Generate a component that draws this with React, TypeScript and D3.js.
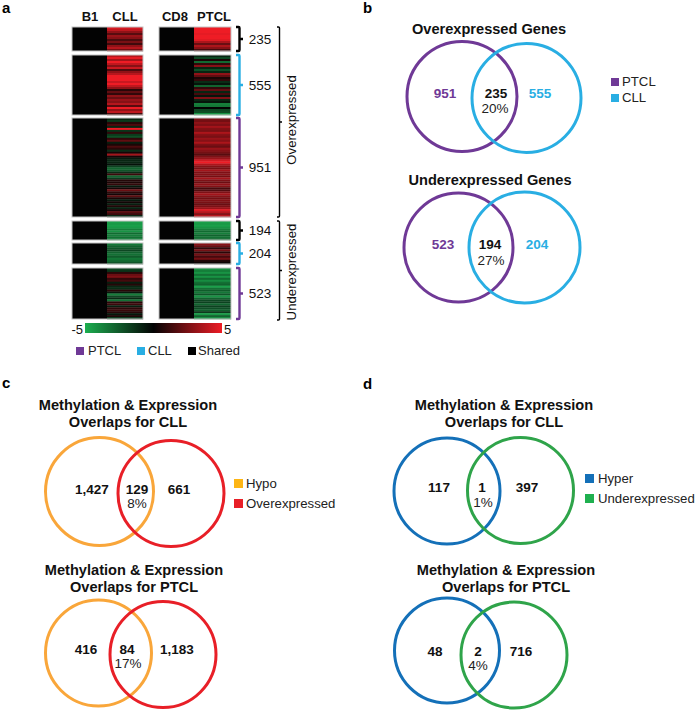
import * as d3 from "d3";

const columnLabels = ["B1", "CLL", "CD8", "PTCL"];
const groupCounts = ["235", "555", "951", "194", "204", "523"];

// expression per row (log2 scale, -5 to 5)
const cll235 = [4.5, 4, 3, 1.8, 3.2, 2.8, 1.5, 2.5, 1.3, 3, 3.8, 2.4];
const ptcl235 = [5, 5, 5, 4.8, 5, 5, 4.7, 3.6, 2.2, 3.6, 2.8, 1.4];
const cll555 = [3.8, 4.8, 3.4, 5, 4, 2.8, 4.2, 1.6, 3, 3.8, 5, 5, 5, 4.2, 5, 4, 3, 0.8, 2, 1, 3, 2.2, 3.2, 2.8, 3.8, 1.8, 5, 3, 4, 1.5];
const ptcl555 = [-1, -2, 0.5, -3, 1, 2.8, -1, -2.2, -1, 3, 2, 0.5, 1, -1.2, -0.5, -2.8, 1, 2, -1, 1.4, -0.5, 2.6, -1, -0.5, -3.6, -3.4, 0, -2, -2.2, -4.2];
const cll951 = [-1, -1.6, 0.8, 1.6, -1, 5, -1.4, 1, -1.6, -2.2, 0.9, 2, -0.8, 0.5, 1.5, 0.8, -1.2, 0.4, 3.4, 0.4, -0.7, -1, -1, -0.4, -1.8, -2.8, -2.4, -1.2, 1.2, -2.8, -1.6, 0.7, 0.5, 1, -0.6, 0.4, 2.2, 0.9, 0.4, 1.8, 0.5, -0.6, 0.3, -0.8, 0.6, -0.9, 0.4, 1.8, 1.2, -1];
const ptcl951 = [2.6, 2.4, 3, 2.6, 3.4, 2.7, 2.5, 3.6, 2.8, 2.5, 3.2, 2.8, 3.6, 2.6, 2.2, 3.2, 2.8, 2.4, 1.8, 2.6, 3.2, 4.4, 5, 3.6, 2.8, 2.5, 3.4, 2.6, 2.8, 2.4, 3.4, 2.6, 2.2, 3, 2.7, 1.5, 1.7, 2.6, 3.4, 2.8, 2.4, 2.7, 2.5, 2.2, 2.6, 3.2, 4.6, 3.8, 2.8, 3.8];
const cll194 = [-4.6, -4.4, -4.6, -4.4, -3.6, -4.2, -3, -3.6, -3.2, -3.6];
const ptcl194 = [-4.6, -4.4, -4.6, -4.2, -3.6, -3, -3.6, -2.8, -3.2, -3];
const cll204 = [-3.4, -2.8, -2.4, -2, -2.8, -3.2, -2.6, -3.4, -3, -2.4];
const ptcl204 = [2.8, 2.2, 1, 2.4, 0.8, 2.4, 1.4, 2.4, 0.6, 0.2];
const cll523 = [-1.8, -1.4, 0.8, 2.2, 2.6, 1, 1.4, -0.8, 0.7, -1, -1.2, 0.8, -0.6, -3.6, -2, -1.2, -3.2, 0.8, 1.2, -0.8, 0.9, 1.1, 0.7, -0.6, 0.5, -1.6];
const ptcl523 = [-4.2, -3.6, -4.2, -3.2, -4.2, -3, -4, -3.2, -2.8, -4.6, -3.2, -2.6, -3.4, -2.4, -4.2, -2.8, -2, -1.8, -2.8, -1.8, -2.2, -2.6, -1.6, -4.4, -2.8, -4];

const cllRows = [cll235, cll555, cll951, cll194, cll204, cll523];
const ptclRows = [ptcl235, ptcl555, ptcl951, ptcl194, ptcl204, ptcl523];
const colorStops = [-5, -2.5, 0, 2.5, 5];

const overGroupLabel = "Overexpressed";
const underGroupLabel = "Underexpressed";

const vennTitles = [
  ["Overexpressed Genes"],
  ["Underexpressed Genes"],
  ["Methylation & Expression", "Overlaps for CLL"],
  ["Methylation & Expression", "Overlaps for PTCL"],
  ["Methylation & Expression", "Overlaps for CLL"],
  ["Methylation & Expression", "Overlaps for PTCL"],
];
const vennLeft = ["951", "523", "1,427", "416", "117", "48"];
const vennShared = ["235", "194", "129", "84", "1", "2"];
const vennPercent = ["20%", "27%", "8%", "17%", "1%", "4%"];
const vennRight = ["555", "204", "661", "1,183", "397", "716"];

const purple = "#6f3996";
const sky = "#29aee3";
const orange = "#f9a63a";
const red = "#e81f27";
const blue = "#1470b8";
const green = "#2fa44a";
const font = "'Liberation Sans', Arial, sans-serif";

const color = d3.scaleLinear<string>().domain([-5, 0, 5]).range(["#1cae50", "#030303", "#ee1c25"]);

// layout only
const stripBounds = [
  [27, 51],
  [55, 115],
  [118, 217],
  [221, 240],
  [243, 264],
  [268, 319],
];
const bracketColors = ["#000", sky, purple, "#000", sky, purple];

interface VennLayout {
  a: [number, number, number];
  b: [number, number, number];
  colors: [string, string];
  titleX: number;
  titleY: number;
  numberY: number;
  percentY: number;
  leftX: number;
  sharedX: number;
  percentX: number;
  rightX: number;
  tintNumbers: boolean;
}

const vennLayouts: VennLayout[] = [
  { a: [462, 96.5, 55], b: [526.5, 98, 54.5], colors: [purple, sky], titleX: 489, titleY: 34, numberY: 98, percentY: 113, leftX: 445, sharedX: 496, percentX: 495, rightX: 540, tintNumbers: true },
  { a: [458.5, 247.5, 54.5], b: [524.5, 247.5, 55.5], colors: [purple, sky], titleX: 490, titleY: 185, numberY: 249, percentY: 265, leftX: 443, sharedX: 490, percentX: 491, rightX: 537, tintNumbers: true },
  { a: [99.5, 491.5, 54], b: [171, 493.5, 53], colors: [orange, red], titleX: 128, titleY: 410, numberY: 494, percentY: 508, leftX: 92, sharedX: 137, percentX: 137, rightX: 179, tintNumbers: false },
  { a: [98.5, 653, 53], b: [163, 654.5, 53], colors: [orange, red], titleX: 134, titleY: 575, numberY: 654, percentY: 668, leftX: 86, sharedX: 127, percentX: 128, rightX: 177, tintNumbers: false },
  { a: [447, 491, 53], b: [520.5, 490.5, 53], colors: [blue, green], titleX: 504, titleY: 410, numberY: 492, percentY: 507, leftX: 439, sharedX: 482, percentX: 483, rightX: 527, tintNumbers: false },
  { a: [447, 650.5, 52.5], b: [514, 655, 53], colors: [blue, green], titleX: 506, titleY: 575, numberY: 656, percentY: 670, leftX: 435, sharedX: 478, percentX: 478, rightX: 521, tintNumbers: false },
];

const legends = [
  { items: [["PTCL", purple], ["CLL", sky]], x: 611, ys: [78, 94], size: 8, textX: 622 },
  { items: [["Hypo", "#fdb515"], ["Overexpressed", red]], x: 234, ys: [479, 499], size: 9, textX: 246 },
  { items: [["Hyper", blue], ["Underexpressed", "#1fb04f"]], x: 585, ys: [474, 494], size: 9, textX: 598 },
];

function bracketPath(y0: number, y1: number, x: number, w: number, tip: number) {
  const mid = (y0 + y1) / 2;
  const path = d3.path();
  path.moveTo(x, y0);
  path.lineTo(x + w - 1, y0);
  path.quadraticCurveTo(x + w, y0, x + w, y0 + 1);
  path.lineTo(x + w, y1 - 1);
  path.quadraticCurveTo(x + w, y1, x + w - 1, y1);
  path.lineTo(x, y1);
  path.moveTo(x + w, mid);
  path.lineTo(x + w + tip, mid);
  return path.toString();
}

function Strip({ values, x, y0, y1 }: { values: number[]; x: [number, number, number]; y0: number; y1: number }) {
  const yScale = d3.scaleBand<number>().domain(d3.range(values.length)).range([y0, y1]);
  return (
    <g>
      <rect x={x[0]} y={y0} width={x[1] - x[0]} height={y1 - y0} fill="#030303" />
      {values.map((value, i) => (
        <rect key={i} x={x[1]} y={yScale(i)} width={x[2] - x[1]} height={yScale.bandwidth() + 0.3} fill={color(value)} />
      ))}
      <rect x={x[0]} y={y0} width={x[2] - x[0]} height={y1 - y0} fill="none" stroke="#c4c4c4" strokeWidth={1} />
    </g>
  );
}

function Venn({ index }: { index: number }) {
  const layout = vennLayouts[index];
  const title = vennTitles[index];
  const leftColor = layout.tintNumbers ? layout.colors[0] : "#111";
  const rightColor = layout.tintNumbers ? layout.colors[1] : "#111";
  return (
    <g>
      {title.map((line, i) => (
        <text key={i} x={layout.titleX} y={layout.titleY + i * 17} textAnchor="middle" fontSize={14.6} fontWeight="bold" fill="#111">
          {line}
        </text>
      ))}
      <circle cx={layout.a[0]} cy={layout.a[1]} r={layout.a[2]} fill="none" stroke={layout.colors[0]} strokeWidth={3} />
      <circle cx={layout.b[0]} cy={layout.b[1]} r={layout.b[2]} fill="none" stroke={layout.colors[1]} strokeWidth={3} />
      <text x={layout.leftX} y={layout.numberY} textAnchor="middle" fontSize={13.5} fontWeight="bold" fill={leftColor}>{vennLeft[index]}</text>
      <text x={layout.sharedX} y={layout.numberY} textAnchor="middle" fontSize={13.5} fontWeight="bold" fill="#111">{vennShared[index]}</text>
      <text x={layout.rightX} y={layout.numberY} textAnchor="middle" fontSize={13.5} fontWeight="bold" fill={rightColor}>{vennRight[index]}</text>
      <text x={layout.percentX} y={layout.percentY} textAnchor="middle" fontSize={13.5} fill="#222">{vennPercent[index]}</text>
    </g>
  );
}

export default function App() {
  const columnCenters = [90, 125, 175, 214];
  const barScale = d3.scaleLinear().domain([-5, 5]).range([85, 222]);
  const panelLetters: [string, number, number][] = [["a", 2, 13], ["b", 363, 13], ["c", 2, 388], ["d", 363, 389]];
  const heatLegend: [string, string, number, number][] = [["PTCL", purple, 76, 88], ["CLL", sky, 137, 148], ["Shared", "#000", 188, 198]];

  return (
    <svg width={697} height={710} viewBox="0 0 697 710" fontFamily={font} style={{ position: "absolute", left: 0, top: 0, background: "#fff" }}>
      <defs>
        <linearGradient id="heat-scale">
          {colorStops.map((stop) => (
            <stop key={stop} offset={`${((stop + 5) / 10) * 100}%`} stopColor={color(stop)} />
          ))}
        </linearGradient>
      </defs>

      {panelLetters.map(([letter, x, y]) => (
        <text key={letter} x={x} y={y} fontSize={15} fontWeight="bold" fill="#000">{letter}</text>
      ))}

      {columnLabels.map((label, i) => (
        <text key={label} x={columnCenters[i]} y={21} textAnchor="middle" fontSize={13} fontWeight="bold" fill="#111">{label}</text>
      ))}

      {stripBounds.map(([y0, y1], i) => (
        <g key={i}>
          <Strip values={cllRows[i]} x={[72, 107, 143]} y0={y0} y1={y1} />
          <Strip values={ptclRows[i]} x={[159, 194, 231]} y0={y0} y1={y1} />
          <path d={bracketPath(y0, y1, 236, 3.5, 3.5)} fill="none" stroke={bracketColors[i]} strokeWidth={2.4} />
          <text x={260} y={(y0 + y1) / 2 + 4.5} textAnchor="middle" fontSize={13.5} fill="#111">{groupCounts[i]}</text>
        </g>
      ))}

      <path d={bracketPath(27, 217, 277, 2.5, 2.5)} fill="none" stroke="#000" strokeWidth={1.4} />
      <path d={bracketPath(221, 320, 277, 2.5, 2.5)} fill="none" stroke="#000" strokeWidth={1.4} />
      <text transform="translate(296,120) rotate(-90)" textAnchor="middle" fontSize={13.2} fill="#111">{overGroupLabel}</text>
      <text transform="translate(296,272) rotate(-90)" textAnchor="middle" fontSize={13.2} fill="#111">{underGroupLabel}</text>

      <rect x={barScale(-5)} y={323} width={barScale(5) - barScale(-5)} height={10} fill="url(#heat-scale)" />
      <text x={barScale(-5) - 2} y={334} textAnchor="end" fontSize={13} fill="#111">-5</text>
      <text x={barScale(5) + 2} y={334} fontSize={13} fill="#111">5</text>

      {heatLegend.map(([label, fill, x, textX]) => (
        <g key={label}>
          <rect x={x} y={347} width={8} height={8} fill={fill} />
          <text x={textX} y={355} fontSize={13} fill="#222">{label}</text>
        </g>
      ))}

      {vennLayouts.map((_, i) => (
        <Venn key={i} index={i} />
      ))}

      {legends.map((legend) =>
        legend.items.map(([label, fill], i) => (
          <g key={label}>
            <rect x={legend.x} y={legend.ys[i]} width={legend.size} height={legend.size} fill={fill} />
            <text x={legend.textX} y={legend.ys[i] + legend.size} fontSize={13.2} fill="#222">{label}</text>
          </g>
        ))
      )}
    </svg>
  );
}
